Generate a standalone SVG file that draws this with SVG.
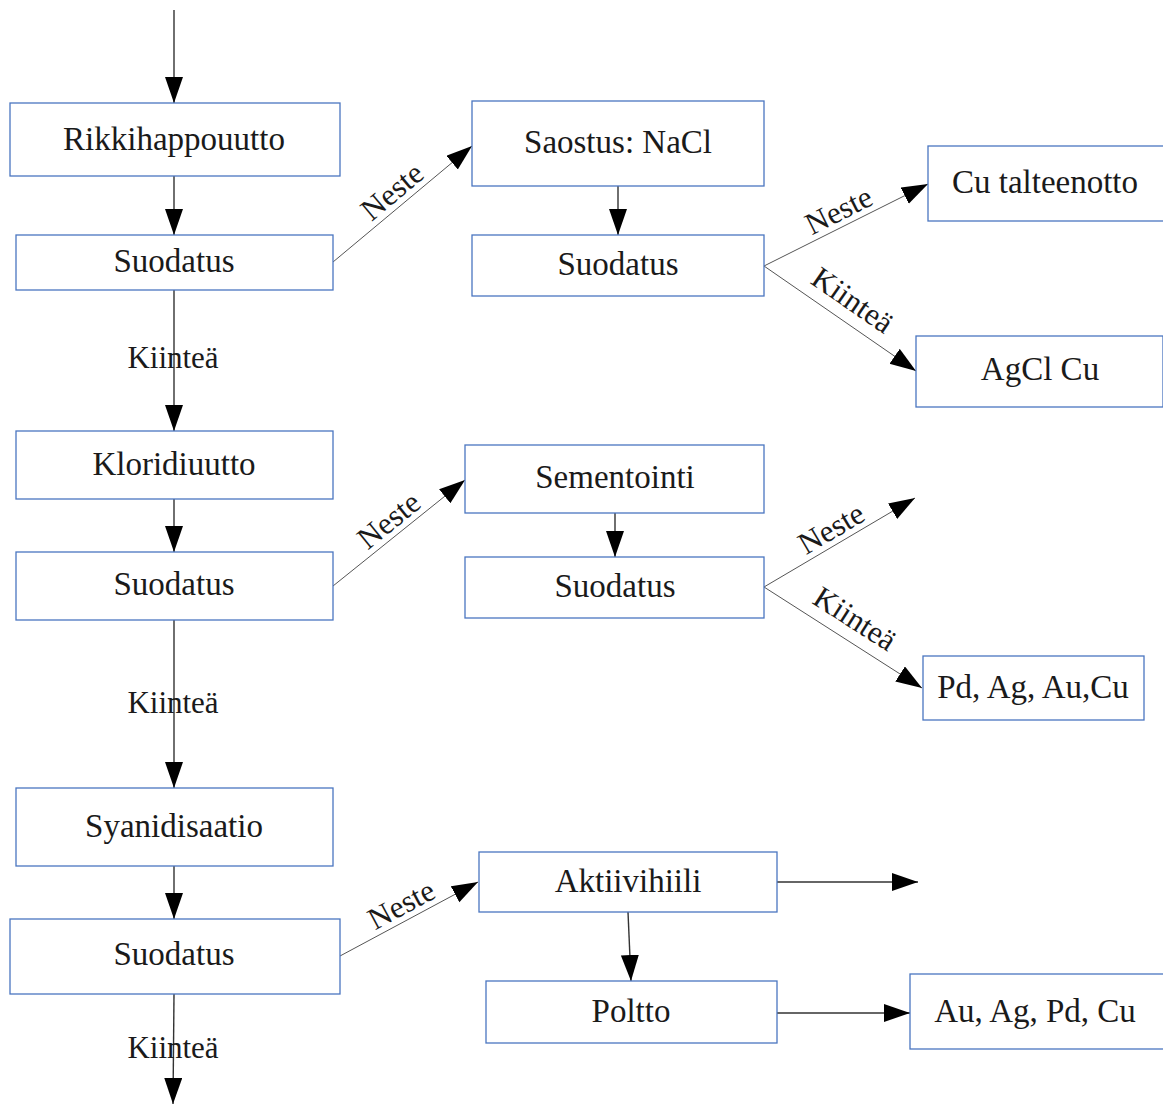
<svg xmlns="http://www.w3.org/2000/svg" width="1163" height="1104" viewBox="0 0 1163 1104">
  <style>
    .box { fill: #ffffff; stroke: #4a76c0; stroke-width: 1.3; }
    .lbl { font-family: "Liberation Serif", "Times New Roman", serif; font-size: 33px; fill: #1a1a1a; text-anchor: middle; }
    .edge-label { font-family: "Liberation Serif", "Times New Roman", serif; font-size: 31px; fill: #1a1a1a; text-anchor: middle; }
    .main { stroke: #333333; stroke-width: 1.4; fill: none; }
    .thin { stroke: #555555; stroke-width: 1; fill: none; }
  </style>
  <defs>
    <marker id="arrow" markerUnits="userSpaceOnUse" markerWidth="27" markerHeight="19" refX="26" refY="9" orient="auto">
      <path d="M0,0 L26,9 L0,18 Z" fill="#000000"/>
    </marker>
  </defs>

  <rect width="1163" height="1104" fill="#ffffff"/>

  <!-- connectors -->
  <g id="connectors">
    <!-- main column -->
    <line class="main" x1="174" y1="10" x2="174" y2="103" marker-end="url(#arrow)"/>
    <line class="main" x1="174" y1="176" x2="174" y2="235" marker-end="url(#arrow)"/>
    <line class="main" x1="174" y1="290" x2="174" y2="431" marker-end="url(#arrow)"/>
    <line class="main" x1="174" y1="499" x2="174" y2="552" marker-end="url(#arrow)"/>
    <line class="main" x1="174" y1="620" x2="174" y2="788" marker-end="url(#arrow)"/>
    <line class="main" x1="174" y1="866" x2="174" y2="919" marker-end="url(#arrow)"/>
    <line class="main" x1="174" y1="994" x2="173" y2="1104" marker-end="url(#arrow)"/>

    <!-- branch 1 -->
    <line class="thin" x1="333" y1="262" x2="472" y2="146" marker-end="url(#arrow)"/>
    <line class="main" x1="618" y1="186" x2="618" y2="235" marker-end="url(#arrow)"/>
    <line class="thin" x1="764" y1="266" x2="928" y2="184" marker-end="url(#arrow)"/>
    <line class="thin" x1="764" y1="266" x2="916" y2="371" marker-end="url(#arrow)"/>

    <!-- branch 2 -->
    <line class="thin" x1="333" y1="586" x2="465" y2="480" marker-end="url(#arrow)"/>
    <line class="main" x1="615" y1="513" x2="615" y2="557" marker-end="url(#arrow)"/>
    <line class="thin" x1="764" y1="587" x2="915" y2="498" marker-end="url(#arrow)"/>
    <line class="thin" x1="764" y1="587" x2="922" y2="688" marker-end="url(#arrow)"/>

    <!-- branch 3 -->
    <line class="thin" x1="340" y1="956" x2="478" y2="882" marker-end="url(#arrow)"/>
    <line class="main" x1="777" y1="882" x2="918" y2="882" marker-end="url(#arrow)"/>
    <line class="main" x1="628" y1="912" x2="631" y2="981" marker-end="url(#arrow)"/>
    <line class="main" x1="777" y1="1013" x2="910" y2="1013" marker-end="url(#arrow)"/>

    <!-- edge labels -->
    <text class="edge-label" x="173" y="368">Kiinteä</text>
    <text class="edge-label" x="173" y="713">Kiinteä</text>
    <text class="edge-label" x="173" y="1058">Kiinteä</text>
    <text class="edge-label" transform="translate(402.5,204) rotate(-39.8)" x="0" y="-6">Neste</text>
    <text class="edge-label" transform="translate(846,225) rotate(-26.6)" x="0" y="-6">Neste</text>
    <text class="edge-label" transform="translate(840,318.5) rotate(34.6)" x="0" y="-12">Kiinteä</text>
    <text class="edge-label" transform="translate(399,533) rotate(-38.8)" x="0" y="-6">Neste</text>
    <text class="edge-label" transform="translate(839.5,542.5) rotate(-30.5)" x="0" y="-6">Neste</text>
    <text class="edge-label" transform="translate(843,637.5) rotate(32.6)" x="0" y="-12">Kiinteä</text>
    <text class="edge-label" transform="translate(409,919) rotate(-28.2)" x="0" y="-6">Neste</text>
  </g>

  <!-- nodes -->
  <g id="rikkihappouutto">
    <rect class="box" x="10" y="103" width="330" height="73"/>
    <text class="lbl" x="174" y="150">Rikkihappouutto</text>
  </g>
  <g id="suodatus-1">
    <rect class="box" x="16" y="235" width="317" height="55"/>
    <text class="lbl" x="174" y="272">Suodatus</text>
  </g>
  <g id="saostus">
    <rect class="box" x="472" y="101" width="292" height="85"/>
    <text class="lbl" x="618" y="153">Saostus: NaCl</text>
  </g>
  <g id="suodatus-2">
    <rect class="box" x="472" y="235" width="292" height="61"/>
    <text class="lbl" x="618" y="275">Suodatus</text>
  </g>
  <g id="cu-talteenotto">
    <rect class="box" x="928" y="146" width="236" height="75"/>
    <text class="lbl" x="1045" y="193">Cu talteenotto</text>
  </g>
  <g id="agcl-cu">
    <rect class="box" x="916" y="336" width="247" height="71"/>
    <text class="lbl" x="1040" y="380">AgCl Cu</text>
  </g>
  <g id="kloridiuutto">
    <rect class="box" x="16" y="431" width="317" height="68"/>
    <text class="lbl" x="174" y="475">Kloridiuutto</text>
  </g>
  <g id="suodatus-3">
    <rect class="box" x="16" y="552" width="317" height="68"/>
    <text class="lbl" x="174" y="595">Suodatus</text>
  </g>
  <g id="sementointi">
    <rect class="box" x="465" y="445" width="299" height="68"/>
    <text class="lbl" x="615" y="488">Sementointi</text>
  </g>
  <g id="suodatus-4">
    <rect class="box" x="465" y="557" width="299" height="61"/>
    <text class="lbl" x="615" y="597">Suodatus</text>
  </g>
  <g id="pd-ag-au-cu">
    <rect class="box" x="923" y="656" width="221" height="64"/>
    <text class="lbl" x="1033" y="698">Pd, Ag, Au,Cu</text>
  </g>
  <g id="syanidisaatio">
    <rect class="box" x="16" y="788" width="317" height="78"/>
    <text class="lbl" x="174" y="837">Syanidisaatio</text>
  </g>
  <g id="suodatus-5">
    <rect class="box" x="10" y="919" width="330" height="75"/>
    <text class="lbl" x="174" y="965">Suodatus</text>
  </g>
  <g id="aktiivihiili">
    <rect class="box" x="479" y="852" width="298" height="60"/>
    <text class="lbl" x="628" y="892">Aktiivihiili</text>
  </g>
  <g id="poltto">
    <rect class="box" x="486" y="981" width="291" height="62"/>
    <text class="lbl" x="631" y="1022">Poltto</text>
  </g>
  <g id="au-ag-pd-cu">
    <rect class="box" x="910" y="974" width="254" height="75"/>
    <text class="lbl" x="1035" y="1022">Au, Ag, Pd, Cu</text>
  </g>
</svg>
